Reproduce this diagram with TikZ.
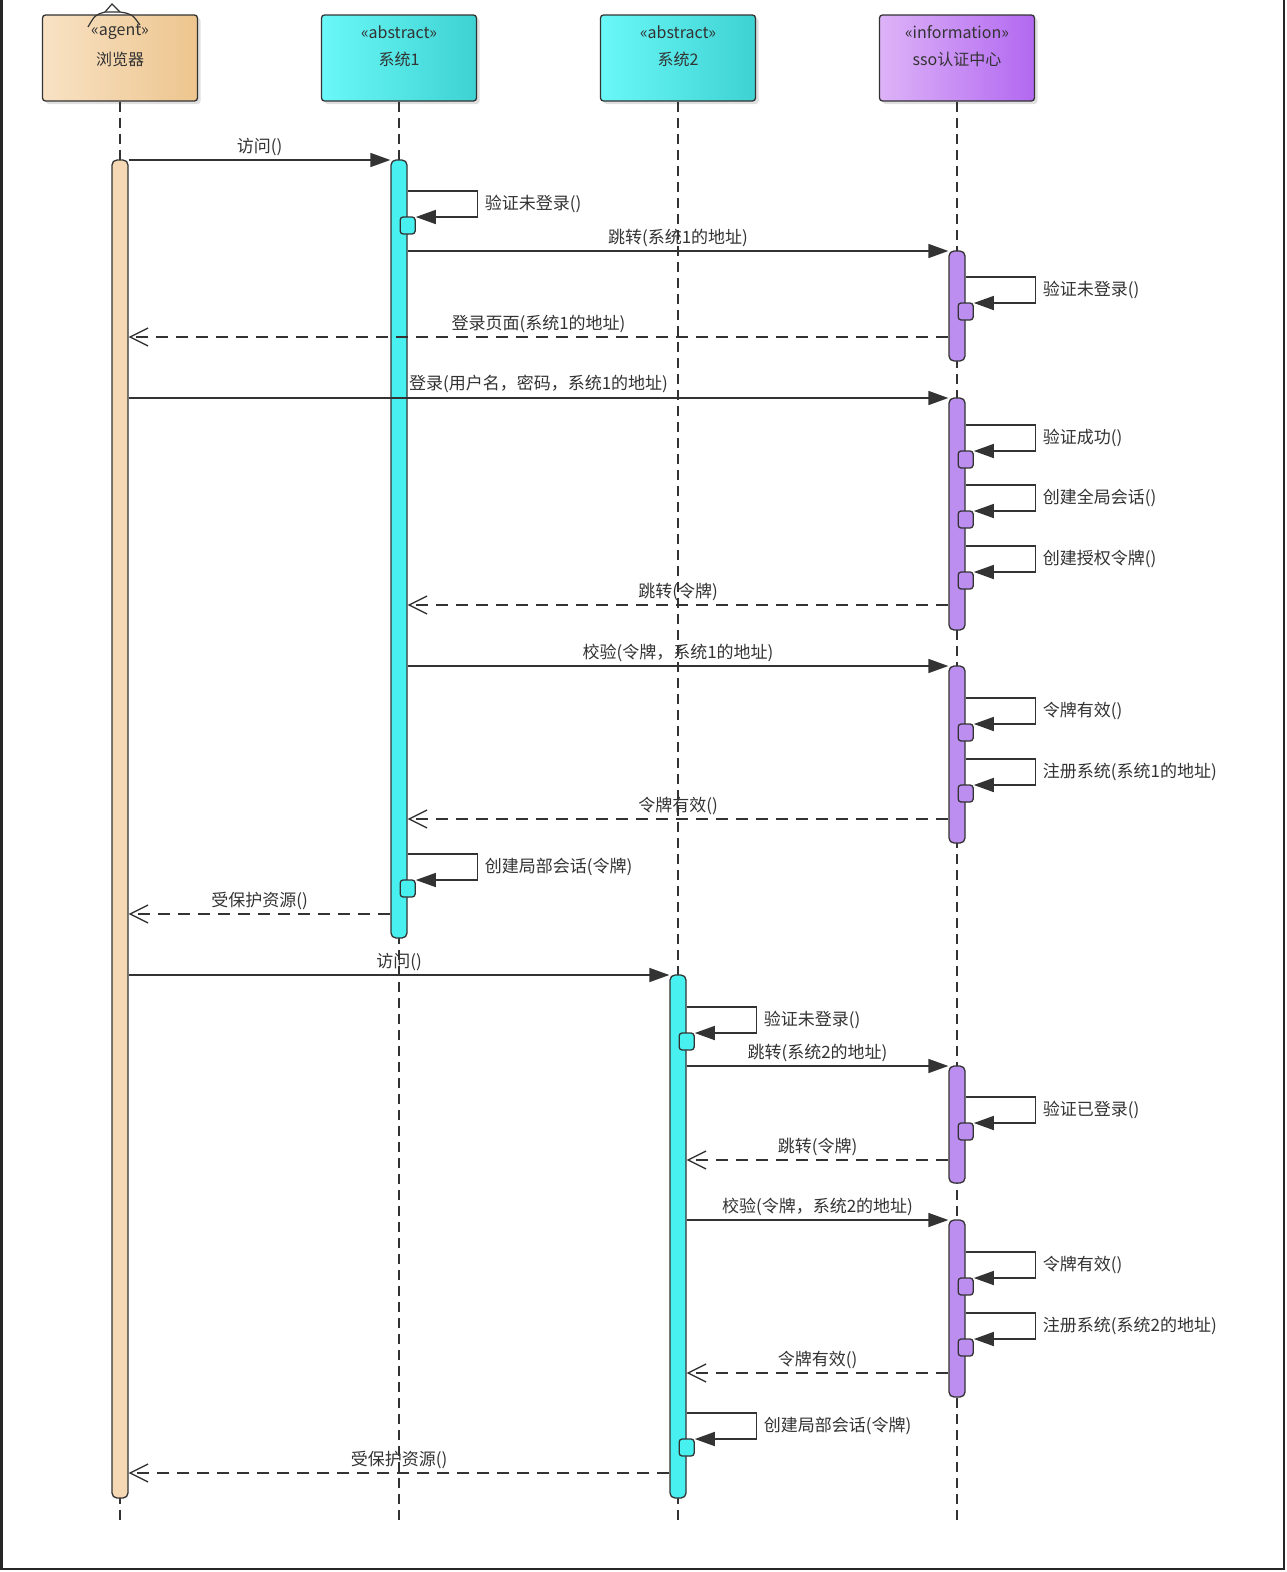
\documentclass[tikz,border=0pt]{standalone}
\usepackage{fontspec}
\setmainfont{Noto Sans CJK SC}
\usetikzlibrary{arrows.meta,shadows,calc}
\definecolor{tanL}{HTML}{F8E2C4}
\definecolor{tanR}{HTML}{EDC58E}
\definecolor{tanBar}{HTML}{F4D9B4}
\definecolor{cyL}{HTML}{6AF8F8}
\definecolor{cyR}{HTML}{3ED2D2}
\definecolor{cyBar}{HTML}{48F0F0}
\definecolor{puL}{HTML}{DDB3F8}
\definecolor{puR}{HTML}{B268F0}
\definecolor{puBar}{HTML}{BC8EF0}
\definecolor{ink}{HTML}{333333}
\tikzset{
  head/.style={draw=ink, line width=1.3pt, rounded corners=3pt, minimum width=155pt,
    minimum height=86pt, inner sep=0pt,
    drop shadow={shadow xshift=3pt, shadow yshift=-3pt, opacity=0.25}},
  hdtext/.style={font=\fontsize{16}{18}\selectfont, text=ink, inner sep=0pt},
  lbl/.style={font=\fontsize{17}{19}\selectfont, text=ink, inner sep=0pt},
  life/.style={draw=ink, line width=1.3pt, dash pattern=on 10pt off 6pt},
  actbarstyle/.style={draw=ink, line width=1.3pt, rounded corners=5pt, minimum width=16pt, inner sep=0pt},
  smallbox/.style={draw=ink, line width=1.3pt, rounded corners=3pt, minimum width=15pt, minimum height=17pt, inner sep=0pt},
  line/.style={draw=ink, line width=1.6pt},
  call/.style={draw=ink, line width=1.6pt, -{Triangle[length=20pt,width=14pt]}},
  ret/.style={draw=ink, line width=1.6pt, dash pattern=on 12pt off 8pt, -{Straight Barb[length=18pt,width=18pt,line width=1.3pt]}},
  frame/.style={draw=black!85, line width=2.5pt}
}
\newcommand\actbar[5]{\node[actbarstyle, fill=#5, minimum height={#4-#3}] (#1) at (#2,{(#3+#4)/2}) {};}
\newcommand\selfcall[5]{%
  \coordinate (#2s) at (#1.east |- 0,#3);
  \draw[line] (#2s) -- ++(70,0) coordinate (#2c) -- ++(0,26) coordinate (#2d);
  \node[smallbox, fill=#5] (#2) at ($(#2s)+(0,34.5)$) {};
  \draw[call] (#2d) -- (#2.east |- #2d);
  \node[lbl, anchor=west] at ($(#2c)+(7,13)$) {#4};
}
\begin{document}
\begin{tikzpicture}[x=1pt,y=-1pt]
\useasboundingbox (0,0) rectangle (1286,1572);
\fill[white] (0,0) rectangle (1286,1572);
\draw[frame] (1.5,0) -- (1.5,1569) -- (1284,1569) -- (1284,0);

% headers
\node[head, left color=tanL, right color=tanR] (hb) at (120,58) {};
\node[head, left color=cyL, right color=cyR] (h1) at (399,58) {};
\node[head, left color=cyL, right color=cyR] (h2) at (678,58) {};
\node[head, left color=puL, right color=puR] (hs) at (957,58) {};
\node[hdtext] (hbt) at ($(hb.north)+(0,18)$) {«agent»};
\node[hdtext] (hbn) at ($(hb.north)+(0,45)$) {浏览器};
\node[hdtext] (h1t) at ($(h1.north)+(0,18)$) {«abstract»};
\node[hdtext] (h1n) at ($(h1.north)+(0,45)$) {系统1};
\node[hdtext] (h2t) at ($(h2.north)+(0,18)$) {«abstract»};
\node[hdtext] (h2n) at ($(h2.north)+(0,45)$) {系统2};
\node[hdtext] (hst) at ($(hs.north)+(0,18)$) {«information»};
\node[hdtext] (hsn) at ($(hs.north)+(0,45)$) {sso认证中心};
% agent hat
\draw[ink, line width=1.2pt] (88,27) .. controls (95,15) .. (105,12) -- (120,12) .. controls (132,14) .. (140,25);
\draw[ink, line width=1.2pt] (105,12) -- (112,4) -- (120,12);

% lifelines
\draw[life] (hb.south) -- (120,1525);
\draw[life] (h1.south) -- (399,1525);
\draw[life] (h2.south) -- (678,1525);
\draw[life] (hs.south) -- (957,1525);

% activation bars
\actbar{bb}{120}{160}{1498}{tanBar}
\actbar{s1}{399}{160}{938}{cyBar}
\actbar{s2}{678}{975}{1498}{cyBar}
\actbar{a1}{957}{251}{361}{puBar}
\actbar{a2}{957}{398}{630}{puBar}
\actbar{a3}{957}{666}{843}{puBar}
\actbar{a4}{957}{1066}{1183}{puBar}
\actbar{a5}{957}{1220}{1397}{puBar}

% messages
\draw[call] (bb.east |- 0,160) -- (s1.west |- 0,160) node[lbl, midway, yshift=13pt] {访问()};
\draw[call] (s1.east |- 0,251) -- (a1.west |- 0,251) node[lbl, midway, yshift=13pt] {跳转(系统1的地址)};
\draw[ret] (a1.west |- 0,337) -- (bb.east |- 0,337) node[lbl, midway, yshift=13pt] {登录页面(系统1的地址)};
\draw[call] (bb.east |- 0,398) -- (a2.west |- 0,398) node[lbl, midway, yshift=14pt] {登录(用户名，密码，系统1的地址)};
\draw[ret] (a2.west |- 0,605) -- (s1.east |- 0,605) node[lbl, midway, yshift=13pt] {跳转(令牌)};
\draw[call] (s1.east |- 0,666) -- (a3.west |- 0,666) node[lbl, midway, yshift=13pt] {校验(令牌，系统1的地址)};
\draw[ret] (a3.west |- 0,819) -- (s1.east |- 0,819) node[lbl, midway, yshift=13pt] {令牌有效()};
\draw[ret] (s1.west |- 0,914) -- (bb.east |- 0,914) node[lbl, midway, yshift=13pt] {受保护资源()};
\draw[call] (bb.east |- 0,975) -- (s2.west |- 0,975) node[lbl, midway, yshift=13pt] {访问()};
\draw[call] (s2.east |- 0,1066) -- (a4.west |- 0,1066) node[lbl, midway, yshift=13pt] {跳转(系统2的地址)};
\draw[ret] (a4.west |- 0,1160) -- (s2.east |- 0,1160) node[lbl, midway, yshift=13pt] {跳转(令牌)};
\draw[call] (s2.east |- 0,1220) -- (a5.west |- 0,1220) node[lbl, midway, yshift=13pt] {校验(令牌，系统2的地址)};
\draw[ret] (a5.west |- 0,1373) -- (s2.east |- 0,1373) node[lbl, midway, yshift=13pt] {令牌有效()};
\draw[ret] (s2.west |- 0,1473) -- (bb.east |- 0,1473) node[lbl, midway, yshift=13pt] {受保护资源()};

% self calls
\selfcall{s1}{k1}{191}{验证未登录()}{cyBar}
\selfcall{a1}{k2}{277}{验证未登录()}{puBar}
\selfcall{a2}{k3}{425}{验证成功()}{puBar}
\selfcall{a2}{k4}{485}{创建全局会话()}{puBar}
\selfcall{a2}{k5}{546}{创建授权令牌()}{puBar}
\selfcall{a3}{k6}{698}{令牌有效()}{puBar}
\selfcall{a3}{k7}{759}{注册系统(系统1的地址)}{puBar}
\selfcall{s1}{k8}{854}{创建局部会话(令牌)}{cyBar}
\selfcall{s2}{k9}{1007}{验证未登录()}{cyBar}
\selfcall{a4}{k10}{1097}{验证已登录()}{puBar}
\selfcall{a5}{k11}{1252}{令牌有效()}{puBar}
\selfcall{a5}{k12}{1313}{注册系统(系统2的地址)}{puBar}
\selfcall{s2}{k13}{1413}{创建局部会话(令牌)}{cyBar}
\end{tikzpicture}
\end{document}
